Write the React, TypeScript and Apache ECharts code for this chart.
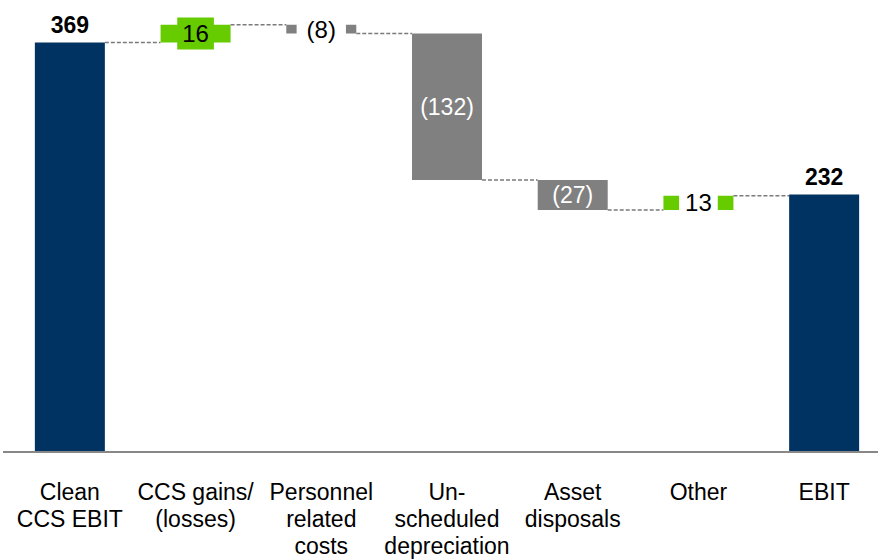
import React, { useEffect, useRef } from "react";
import * as echarts from "echarts";

// Bridge from Clean CCS EBIT to EBIT
const categories = [
  "Clean\nCCS EBIT",
  "CCS gains/\n(losses)",
  "Personnel\nrelated\ncosts",
  "Un-\nscheduled\ndepreciation",
  "Asset\ndisposals",
  "Other",
  "EBIT",
];
const values = [369, 16, -8, -132, -27, 13, 232];
const isTotal = [true, false, false, false, false, false, true];

const NAVY = "#003362";
const GREEN = "#66CC00";
const GREY = "#808080";
const FONT = "'Liberation Sans', Arial, sans-serif";
const BAR_W = 70;

export default function App() {
  const ref = useRef<HTMLDivElement>(null);

  useEffect(() => {
    if (!ref.current) return;
    const chart = echarts.init(ref.current, undefined, { renderer: "svg" });

    // running totals -> invisible base + visible step
    const base: number[] = [];
    const step: any[] = [];
    const levels: number[][] = [];
    let running = 0;
    values.forEach((v, i) => {
      let color: string;
      let label: any;
      if (isTotal[i]) {
        base.push(0);
        running = v;
        color = NAVY;
        label = {
          show: true,
          position: "top",
          distance: 6,
          formatter: String(v),
          color: "#000",
          fontWeight: "bold",
          fontSize: 23,
          fontFamily: FONT,
        };
        step.push({ value: v, itemStyle: { color }, label });
      } else {
        const start = running;
        running = running + v;
        base.push(Math.min(start, running));
        const text = v < 0 ? `(${-v})` : String(v);
        const big = Math.abs(v) > 20;
        color = v < 0 ? GREY : GREEN;
        if (big) {
          label = {
            show: true,
            position: "inside",
            formatter: text,
            color: "#fff",
            fontSize: 23,
            fontFamily: FONT,
          };
        } else {
          label = {
            show: true,
            position: "inside",
            formatter: text,
            color: "#000",
            fontSize: 24,
            lineHeight: 24,
            fontFamily: FONT,
            backgroundColor: v > 0 && i === 1 ? GREEN : "#fff",
            padding: v > 0 && i === 1 ? [4, 5] : v < 0 ? [2, 10] : [2, 6],
          };
        }
        step.push({ value: Math.abs(v), itemStyle: { color }, label });
      }
      if (i < values.length - 1) levels.push([i, running]);
    });

    chart.setOption({
      animation: false,
      grid: { left: 7, top: 8.1, width: 880, height: 443.9, containLabel: false },
      xAxis: {
        type: "category",
        data: categories,
        axisLine: { show: true, lineStyle: { color: "#888", width: 2 } },
        axisTick: { show: false },
        axisLabel: {
          interval: 0,
          margin: 26,
          color: "#000",
          fontSize: 23,
          lineHeight: 27,
          fontFamily: FONT,
        },
        z: 5,
      },
      yAxis: { type: "value", min: 0, max: 400, show: false },
      graphic: [
        {
          type: "line",
          shape: { x1: 3, y1: 452, x2: 8, y2: 452 },
          style: { stroke: "#888", lineWidth: 2 },
        },
      ],
      series: [
        {
          type: "bar",
          stack: "w",
          data: base,
          barWidth: BAR_W,
          itemStyle: { color: "transparent" },
          silent: true,
        },
        {
          type: "bar",
          stack: "w",
          data: step,
          barWidth: BAR_W,
          z: 3,
        },
        {
          type: "custom",
          data: levels,
          z: 2,
          renderItem: (params: any, api: any) => {
            const idx = api.value(0);
            const lvl = api.value(1);
            const p0 = api.coord([idx, lvl]);
            const p1 = api.coord([idx + 1, lvl]);
            return {
              type: "line",
              shape: {
                x1: p0[0] + BAR_W / 2,
                y1: p0[1],
                x2: p1[0] - BAR_W / 2,
                y2: p1[1],
              },
              style: { stroke: "#7a7a7a", lineWidth: 1.5, lineDash: [4, 2] },
            };
          },
        },
      ],
    });

    return () => chart.dispose();
  }, []);

  return (
    <div style={{ position: "fixed", left: 0, top: 0, width: 878, height: 559, overflow: "hidden", background: "#fff" }}>
      <div ref={ref} style={{ width: 900, height: 559 }} />
    </div>
  );
}
